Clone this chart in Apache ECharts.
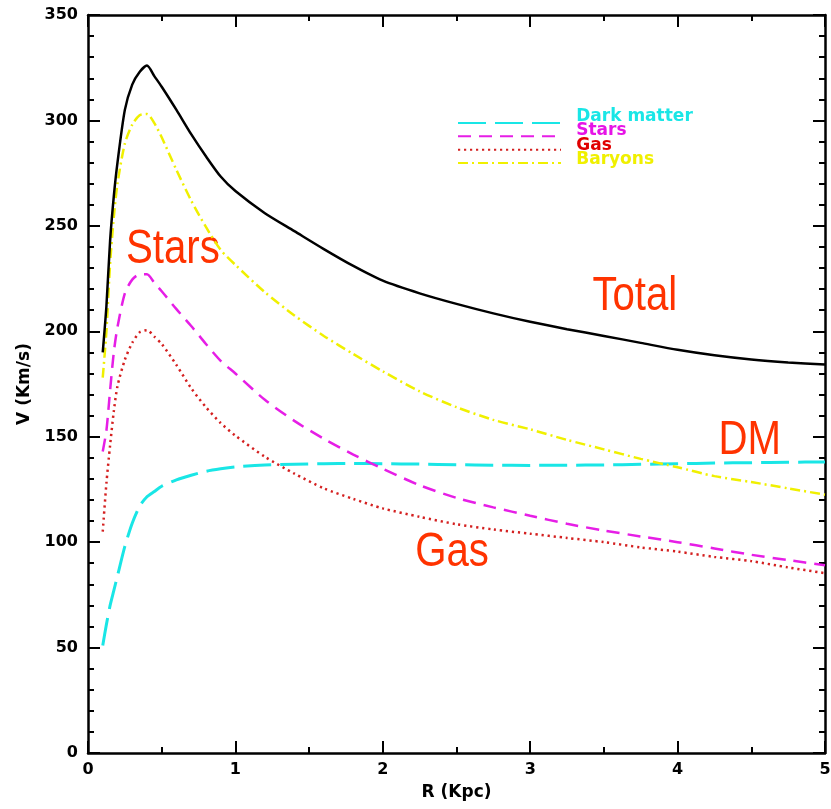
<!DOCTYPE html>
<html>
<head>
<meta charset="utf-8">
<title>Rotation curve</title>
<script src="https://cdn.jsdelivr.net/npm/echarts@6/dist/echarts.min.js"></script>
<style>
  html, body { margin: 0; padding: 0; background: #fff; }
  #chart { width: 831px; height: 809px; }
</style>
</head>
<body>
<div id="chart"></div>
<script>
// Radius grid (kpc) shared by all components
const radius = [0.1, 0.125, 0.15, 0.175, 0.2, 0.25, 0.3, 0.35, 0.4, 0.45, 0.5, 0.6, 0.7, 0.8, 0.9, 1.0,
  1.2, 1.4, 1.6, 1.8, 2.0, 2.25, 2.5, 2.75, 3.0, 3.25, 3.5, 3.75, 4.0, 4.25, 4.5, 4.75, 5.0];

// Circular velocities (km/s)
const darkMatter = [51, 61, 70, 77, 84, 98, 109, 117, 121.5, 124, 126.5, 129.5, 131.7, 133.6, 134.8, 135.7,
  136.6, 137, 137.2, 137.3, 137.2, 137, 136.7, 136.5, 136.4, 136.5, 136.6, 136.9, 137.2, 137.5, 137.7, 137.9, 138];
const stars = [143, 153, 172, 190, 202, 218, 224.5, 227, 227, 223, 219, 210.5, 202.5, 194, 186, 180,
  167.5, 157.5, 149, 141.5, 134.8, 127, 121, 116.5, 112.5, 108.7, 105.5, 102.7, 100, 97, 94, 91.5, 89];
const gas = [105, 128, 146, 162, 174, 186.5, 194.5, 199.5, 200.5, 197.5, 194, 184, 173, 164, 156.5, 150.5,
  140.5, 132.5, 125.5, 120.5, 116, 112, 108.5, 106, 104, 102, 100, 97.5, 95.5, 93, 91, 88, 85.3];
const baryons = [178, 200, 232, 254, 270, 289, 298, 302.5, 303, 298.7, 292, 276.5, 262, 249.5, 238.6, 231.5,
  218.5, 207.5, 197.8, 189.2, 181, 171.5, 164, 158, 153.5, 148.5, 144, 139.5, 135.5, 131.3, 128.5, 125.5, 122.5];
const total = [190, 212, 243, 264, 280, 305, 317, 323, 326, 321, 316, 305, 293.5, 283, 273.4, 266.5,
  256, 247.5, 239, 231, 224, 218, 213, 208.5, 204.5, 201, 197.8, 194.5, 191.2, 188.6, 186.6, 185.2, 184.2];

// In-plot labels and their anchor positions (R, V)
const noteNames = ['Stars', 'Total', 'DM', 'Gas'];
const noteR = [0.576, 3.71, 4.49, 2.47];
const noteV = [239, 216.6, 148.3, 95];

const legendNames = ['Dark matter', 'Stars', 'Gas', 'Baryons'];
const legendColors = ['#19e6e6', '#e614e6', '#e00000', '#f0f000'];

function pairs(ys) { return radius.map((r, i) => [r, ys[i]]); }

const tickFont = { fontFamily: 'DejaVu Sans', fontWeight: 'bold', fontSize: 16, color: '#000' };
const lineCol = '#000';

function axisCommon(extra) {
  return Object.assign({
    type: 'value',
    axisLine: { show: true, onZero: false, lineStyle: { color: lineCol, width: 2.5 } },
    axisTick: { show: true, inside: true, length: 12, lineStyle: { color: lineCol, width: 2 } },
    splitLine: { show: false },
    minorSplitLine: { show: false }
  }, extra);
}

const chart = echarts.init(document.getElementById('chart'), null, { renderer: 'canvas' });

const lineSeries = (name, data, color, type, width) => ({
  name: name,
  type: 'line',
  data: pairs(data),
  symbol: 'none',
  smooth: 0.25,
  silent: true,
  lineStyle: { color: color, width: width, type: type },
  itemStyle: { color: color }
});

const richText = {};
legendNames.forEach((n, i) => {
  richText['c' + i] = {
    color: legendColors[i], fontFamily: 'DejaVu Sans', fontWeight: 'bold', fontSize: 17,
    height: 14, lineHeight: 14
  };
});

chart.setOption({
  animation: false,
  backgroundColor: '#fff',
  grid: { left: 88, right: 6, top: 15, bottom: 56, containLabel: false, outerBoundsMode: 'none' },
  xAxis: [
    axisCommon({
      min: 0, max: 5, interval: 1, position: 'bottom',
      minorTick: { show: true, splitNumber: 2, length: 6, lineStyle: { color: lineCol, width: 2 } },
      axisLabel: Object.assign({ margin: 9 }, tickFont),
      name: 'R (Kpc)', nameLocation: 'middle', nameGap: 31,
      nameTextStyle: { fontFamily: 'DejaVu Sans', fontWeight: 'bold', fontSize: 17, color: '#000' }
    }),
    axisCommon({
      min: 0, max: 5, interval: 1, position: 'top',
      minorTick: { show: true, splitNumber: 2, length: 6, lineStyle: { color: lineCol, width: 2 } },
      axisLabel: { show: false }
    })
  ],
  yAxis: [
    axisCommon({
      min: 0, max: 350, interval: 50, position: 'left',
      minorTick: { show: true, splitNumber: 5, length: 6, lineStyle: { color: lineCol, width: 2 } },
      axisLabel: Object.assign({ margin: 10 }, tickFont),
      name: 'V (Km/s)', nameLocation: 'middle', nameGap: 55, nameRotate: 90,
      nameTextStyle: { fontFamily: 'DejaVu Sans', fontWeight: 'bold', fontSize: 17, color: '#000' }
    }),
    axisCommon({
      min: 0, max: 350, interval: 50, position: 'right',
      minorTick: { show: true, splitNumber: 5, length: 6, lineStyle: { color: lineCol, width: 2 } },
      axisLabel: { show: false }
    })
  ],
  legend: [
    // line samples
    {
      orient: 'vertical',
      left: 457,
      top: 117.5,
      padding: 0,
      itemGap: 2.4,
      itemWidth: 103,
      itemHeight: 13.7,
      selectedMode: false,
      itemStyle: { opacity: 0 },
      formatter: () => '',
      textStyle: { fontSize: 1, lineHeight: 1 },
      data: legendNames
    },
    // coloured names
    {
      orient: 'vertical',
      left: 565,
      top: 108,
      padding: 0,
      itemGap: -2.7,
      itemWidth: 1,
      itemHeight: 14.3,
      selectedMode: false,
      itemStyle: { opacity: 0 },
      lineStyle: { opacity: 0 },
      formatter: name => '{c' + legendNames.indexOf(name) + '|' + name + '}',
      textStyle: { rich: richText },
      data: legendNames
    }
  ],
  series: [
    lineSeries('Dark matter', darkMatter, '#19e6e6', [28, 9], 3),
    lineSeries('Stars', stars, '#e61ee6', [13, 8], 2.5),
    lineSeries('Gas', gas, '#d42020', [2.2, 3.8], 2.5),
    lineSeries('Baryons', baryons, '#f0f000', [10, 4, 2, 4], 2.5),
    lineSeries('Total', total, '#000000', 'solid', 2.5),
    {
      name: 'notes',
      type: 'custom',
      silent: true,
      data: noteNames.map((n, i) => [noteR[i], noteV[i], i]),
      renderItem: (params, api) => {
        const p = api.coord([api.value(0), api.value(1)]);
        return {
          type: 'text',
          x: p[0],
          y: p[1],
          scaleX: 0.82,
          style: {
            text: noteNames[api.value(2)],
            x: 0, y: 0,
            align: 'center',
            verticalAlign: 'middle',
            font: '49px "Liberation Sans", Arial, sans-serif',
            fill: '#ff3300'
          }
        };
      }
    }
  ]
});
</script>
</body>
</html>
